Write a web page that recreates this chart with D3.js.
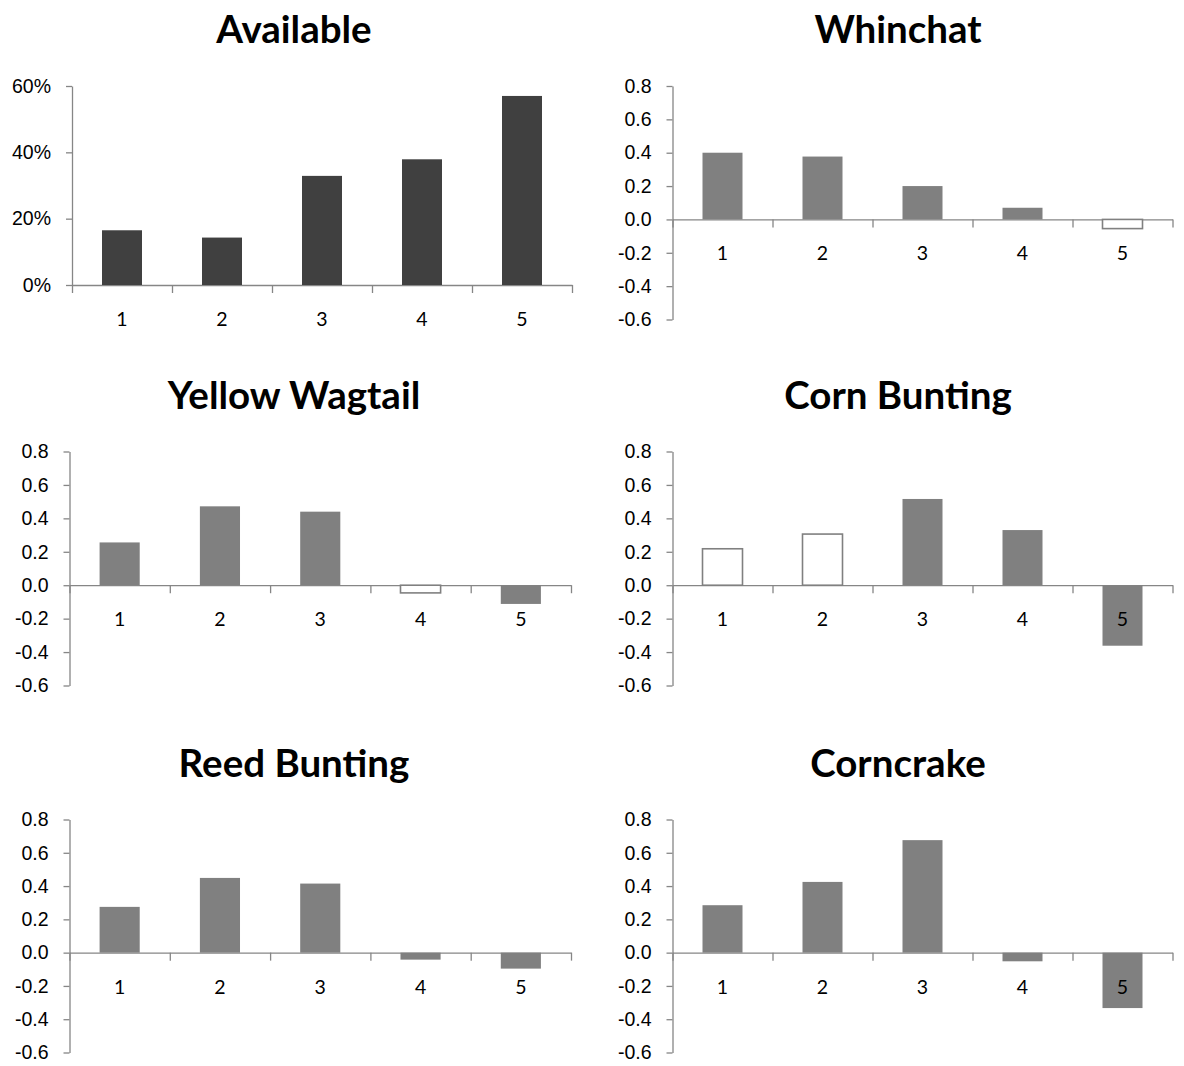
<!DOCTYPE html>
<html>
<head>
<meta charset="utf-8">
<script src="https://cdn.jsdelivr.net/npm/d3@7"></script>
<style>
  body { margin: 0; background: #fff; }
  svg { display: block; font-family: Lato, "Open Sans", sans-serif; }
  .title { font-weight: bold; font-size: 38.5px; fill: #000; }
  .tick text, .cat { font-size: 19.5px; fill: #000; }
  .axis path, .axis line { stroke: #868686; stroke-width: 1.3; }
</style>
</head>
<body>
<svg id="chart" width="1184" height="1066"></svg>
<script>
// categories along the x axis
var categories = ["1", "2", "3", "4", "5"];

// share of each category available
var available = [0.165, 0.143, 0.329, 0.379, 0.570];

// selection index per species
var whinchat      = [0.400, 0.377, 0.200, 0.070, -0.055];
var yellowWagtail = [0.256, 0.472, 0.440, -0.046, -0.112];
var cornBunting   = [0.218, 0.306, 0.516, 0.330, -0.362];
var reedBunting   = [0.275, 0.449, 0.415, -0.042, -0.096];
var corncrake     = [0.285, 0.425, 0.676, -0.052, -0.333];

// bars that are not significant (drawn hollow)
var whinchatHollow      = [false, false, false, false, true];
var yellowWagtailHollow = [false, false, false, true, false];
var cornBuntingHollow   = [true, true, false, false, false];
var noHollow            = [false, false, false, false, false];

// tick values
var pctTicks = [0, 0.2, 0.4, 0.6];
var indexTicks = [-0.6, -0.4, -0.2, 0, 0.2, 0.4, 0.6, 0.8];

var svg = d3.select("#chart");

var fmtPct = d3.format(".0%");
var fmtIdx = function(d) { return d3.format(".1f")(d).replace("\u2212", "-"); };

var panels = [
  { title: "Available", values: available, hollow: noHollow, fill: "#404040",
    x0: 72, x1: 572, top: 86, bottom: 285, domain: [0, 0.6], ticks: pctTicks, fmt: fmtPct, titleX: 294 },
  { title: "Whinchat", values: whinchat, hollow: whinchatHollow, fill: "#808080",
    x0: 672.5, x1: 1172.5, top: 86, bottom: 319.5, domain: [-0.6, 0.8], ticks: indexTicks, fmt: fmtIdx, titleX: 898 },
  { title: "Yellow Wagtail", values: yellowWagtail, hollow: yellowWagtailHollow, fill: "#808080",
    x0: 69.5, x1: 571, top: 451.5, bottom: 685.5, domain: [-0.6, 0.8], ticks: indexTicks, fmt: fmtIdx, titleX: 294 },
  { title: "Corn Bunting", values: cornBunting, hollow: cornBuntingHollow, fill: "#808080",
    x0: 672.5, x1: 1172.5, top: 451.5, bottom: 685.5, domain: [-0.6, 0.8], ticks: indexTicks, fmt: fmtIdx, titleX: 898 },
  { title: "Reed Bunting", values: reedBunting, hollow: noHollow, fill: "#808080",
    x0: 69.5, x1: 571, top: 819.5, bottom: 1052.5, domain: [-0.6, 0.8], ticks: indexTicks, fmt: fmtIdx, titleX: 294 },
  { title: "Corncrake", values: corncrake, hollow: noHollow, fill: "#808080",
    x0: 672.5, x1: 1172.5, top: 819.5, bottom: 1052.5, domain: [-0.6, 0.8], ticks: indexTicks, fmt: fmtIdx, titleX: 898 }
];

panels.forEach(function(p) {
  var g = svg.append("g");

  var x = d3.scaleBand().domain(categories).range([p.x0, p.x1]).paddingInner(0.6).paddingOuter(0.3);
  var xEdge = d3.scaleLinear().domain([0, categories.length]).range([p.x0, p.x1]);
  var y = d3.scaleLinear().domain(p.domain).range([p.bottom, p.top]);

  g.append("text")
    .attr("class", "title")
    .attr("x", p.titleX)
    .attr("y", p.top - 43)
    .attr("text-anchor", "middle")
    .text(p.title);

  // value axis
  g.append("g")
    .attr("class", "axis")
    .attr("transform", "translate(" + p.x0 + ",0)")
    .call(d3.axisLeft(y).tickValues(p.ticks).tickFormat(p.fmt).tickSizeInner(6).tickSizeOuter(0).tickPadding(15))
    .call(function(a) { a.select(".domain").attr("fill", "none"); });

  // category axis at zero
  g.append("g")
    .attr("class", "axis")
    .attr("transform", "translate(0," + y(0) + ")")
    .call(d3.axisBottom(xEdge).ticks(categories.length).tickFormat("").tickSizeInner(8).tickSizeOuter(0))
    .call(function(a) { a.select(".domain").attr("fill", "none"); });

  var rows = categories.map(function(c, i) {
    return { cat: c, v: p.values[i], hollow: p.hollow[i] };
  });

  g.selectAll("rect.bar")
    .data(rows)
    .enter()
    .append("rect")
    .attr("class", "bar")
    .attr("x", function(d) { return x(d.cat); })
    .attr("width", x.bandwidth())
    .attr("y", function(d) { return y(Math.max(0, d.v)); })
    .attr("height", function(d) { return Math.abs(y(d.v) - y(0)); })
    .attr("fill", function(d) { return d.hollow ? "#fff" : p.fill; })
    .attr("stroke", function(d) { return d.hollow ? "#808080" : "none"; })
    .attr("stroke-width", 1.6);

  g.selectAll("text.cat")
    .data(rows)
    .enter()
    .append("text")
    .attr("class", "cat")
    .attr("x", function(d) { return x(d.cat) + x.bandwidth() / 2; })
    .attr("y", y(0) + 41)
    .attr("text-anchor", "middle")
    .text(function(d) { return d.cat; });
});
</script>
</body>
</html>
